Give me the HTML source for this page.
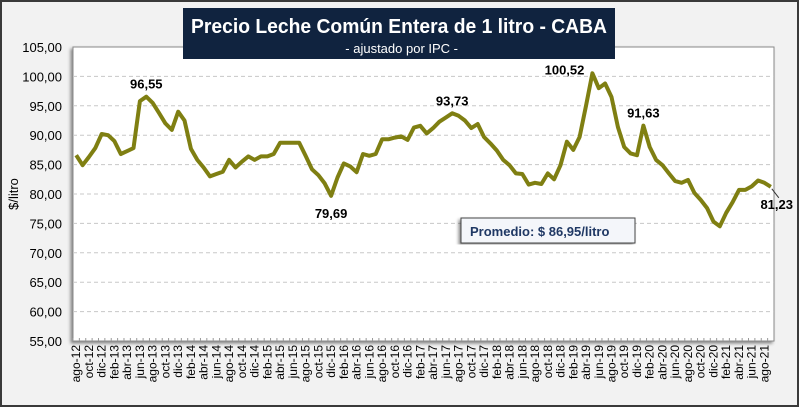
<!DOCTYPE html>
<html><head><meta charset="utf-8"><style>
body{margin:0;width:800px;height:408px;overflow:hidden;font-family:"Liberation Sans",sans-serif}
</style></head><body>
<svg id="chart" width="800" height="408" xmlns="http://www.w3.org/2000/svg" style="font-family:'Liberation Sans',sans-serif">
<defs><filter id="sh" x="-5%" y="-5%" width="110%" height="110%"><feDropShadow dx="-2" dy="2" stdDeviation="1.5" flood-color="#000" flood-opacity="0.45"/></filter></defs>
<rect x="1" y="1" width="797" height="405" fill="#f2f2f2" stroke="#3a3a3a" stroke-width="2"/>
<rect x="73" y="47" width="701" height="294" fill="#fff" stroke="#8a8a8a" stroke-width="1" filter="url(#sh)"/>
<g id="grid"></g><g id="yticks"></g><g id="xticks"></g>
<polyline id="line" fill="none" stroke="#7f7f12" stroke-width="4" stroke-linejoin="round"/>
<g id="labels"></g>
<rect x="183" y="8" width="432" height="51" fill="#10233f"/>
<text x="191" y="33" textLength="416" lengthAdjust="spacingAndGlyphs" fill="#fff" font-size="20" font-weight="bold">Precio Leche Común Entera de 1 litro - CABA</text>
<text x="458" y="53" text-anchor="end" fill="#fff" font-size="13">- ajustado por IPC -</text>
<text transform="translate(18,194) rotate(-90)" text-anchor="middle" font-size="13">$/litro</text>
<rect x="461" y="218" width="174" height="25" fill="#f4f6fa" stroke="#444" stroke-width="1" filter="url(#sh)"/>
<text x="470" y="236" fill="#1f3864" font-size="13" font-weight="bold">Promedio: $ 86,95/litro</text>
</svg>
<script>
const months=["ene","feb","mar","abr","may","jun","jul","ago","sep","oct","nov","dic"];
const values=[86.6,84.9,86.3,87.8,90.2,90.0,89.0,86.8,87.3,87.8,95.8,96.55,95.5,93.8,92.0,90.9,94.0,92.5,87.7,85.8,84.5,83.0,83.4,83.8,85.8,84.5,85.5,86.4,85.8,86.4,86.4,86.8,88.7,88.7,88.7,88.7,86.5,84.2,83.2,81.8,79.69,82.8,85.2,84.7,83.7,86.8,86.5,86.8,89.3,89.3,89.6,89.8,89.2,91.3,91.6,90.3,91.2,92.3,93.0,93.73,93.3,92.5,91.2,91.9,89.7,88.6,87.4,85.8,84.9,83.5,83.4,81.6,81.9,81.7,83.5,82.5,84.9,88.9,87.5,89.7,95.0,100.52,98.0,98.8,96.5,91.4,88.0,86.9,86.6,91.63,88.0,85.8,84.9,83.5,82.2,81.9,82.4,80.2,79.0,77.6,75.3,74.5,76.8,78.6,80.7,80.7,81.3,82.3,81.9,81.23];
const yTicks=[55,60,65,70,75,80,85,90,95,100,105];
const annotations=[[11,"96,55"],[40,"79,69"],[59,"93,73"],[81,"100,52"],[89,"91,63"],[109,"81,23"]];
const categories=values.map((v,i)=>{const m=(7+i)%12,y=12+Math.floor((7+i)/12);return months[m]+"-"+y;});
const NS="http://www.w3.org/2000/svg";
const X0=73,X1=774,Y0=341,Y1=47,step=(X1-X0)/values.length;
const x=i=>X0+step*(i+0.5);
const y=v=>Y0-(v-55)/50*(Y0-Y1);
function mk(t,a,p){const e=document.createElementNS(NS,t);for(const k in a)e.setAttribute(k,a[k]);p.appendChild(e);return e;}
const grid=document.getElementById('grid'),yt=document.getElementById('yticks'),xt=document.getElementById('xticks'),lb=document.getElementById('labels');
yTicks.forEach(v=>{
 if(v>55&&v<105){const l=mk('line',{x1:X0,x2:X1,y1:y(v),y2:y(v),stroke:'#c8c8c8','stroke-dasharray':'4,3'},grid);
 
 }
 const t=mk('text',{x:62,y:y(v)+5,'text-anchor':'end','font-size':'13'},yt);
 t.textContent=v.toFixed(2).replace('.',',');
 
 
});
categories.forEach((c,i)=>{
 const tk=mk('line',{x1:X0+step*i,x2:X0+step*i,y1:Y0,y2:Y0-3,stroke:'#999'},xt);
 
 
 if(i%2===0){const t=mk('text',{transform:`translate(${x(i)+4},345) rotate(-90)`,'text-anchor':'end','font-size':'12'},xt);
 t.textContent=c;
 
 }
});
document.getElementById('line').setAttribute('points',values.map((v,i)=>x(i).toFixed(1)+','+y(v).toFixed(1)).join(' '));
annotations.forEach(([i,txt])=>{
 let tx=x(i),ty=y(values[i])-8,anchor='middle';
 if(i===40)ty=y(values[i])+22;
 if(i===81){tx=x(i)-8;ty=y(values[i])+1;anchor='end';}
 if(i===109){tx=793;ty=y(values[i])+22;anchor='end';
  const ll=mk('line',{x1:x(i)+1,y1:y(values[i])+2,x2:x(i)+8,y2:y(values[i])+11,stroke:'#333','stroke-width':'1'},lb);
  
  }
 const t=mk('text',{x:tx,y:ty,'text-anchor':anchor,'font-size':'13','font-weight':'bold'},lb);
 t.textContent=txt;
 
 
});
</script>
</body></html>
